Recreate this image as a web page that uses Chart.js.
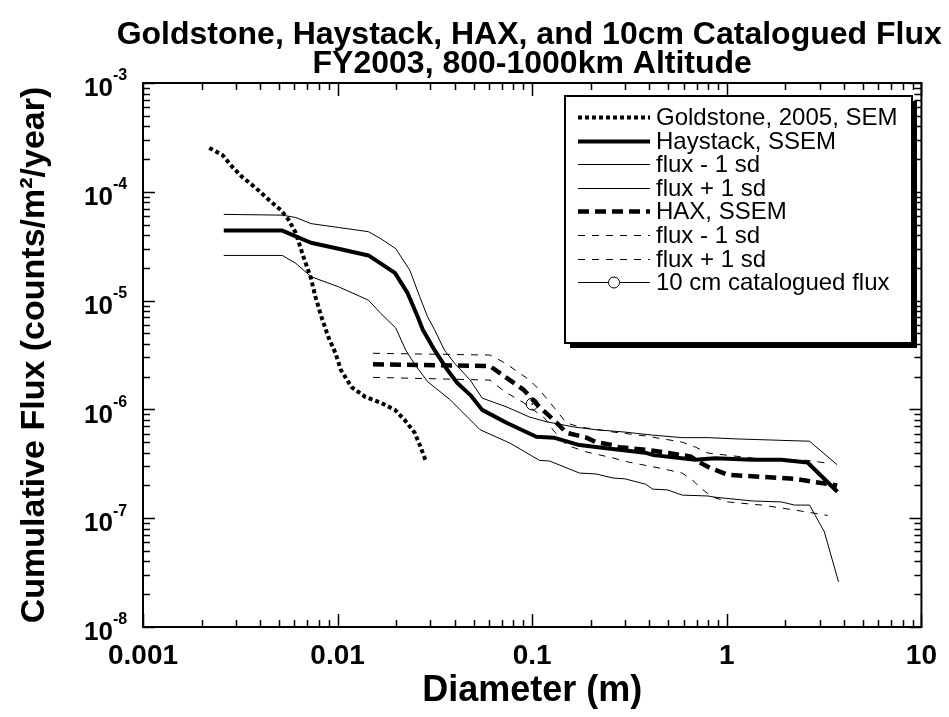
<!DOCTYPE html>
<html>
<head>
<meta charset="utf-8">
<script src="https://cdn.jsdelivr.net/npm/chart.js@4/dist/chart.umd.min.js"></script>
<style>
html,body{margin:0;padding:0;background:#ffffff;}
#wrap{width:949px;height:717px;position:relative;}
</style>
</head>
<body>
<div id="wrap"><canvas id="c" width="949" height="717"></canvas></div>
<script>
// ---------- text ----------
const titleLines = ['Goldstone, Haystack, HAX, and 10cm Catalogued Flux', 'FY2003, 800-1000km Altitude'];
const xAxisTitle = 'Diameter (m)';
const yAxisTitle = 'Cumulative Flux (counts/m\u00B2/year)';

// ---------- tick labels ----------
const xTickValues = [0.001, 0.01, 0.1, 1, 10];
const xTickLabels = ['0.001', '0.01', '0.1', '1', '10'];
const yTickValues = [1e-3, 1e-4, 1e-5, 1e-6, 1e-7, 1e-8];
const yTickBase = '10';
const yTickExponents = ['-3', '-4', '-5', '-6', '-7', '-8'];

// ---------- series ----------
const goldstoneLabel = 'Goldstone, 2005, SEM';
const goldstoneD = [0.00219, 0.00256, 0.00288, 0.00323, 0.00381, 0.00444, 0.00511, 0.00561, 0.00609, 0.00669, 0.00726, 0.0077, 0.00826, 0.00897, 0.00974, 0.0104, 0.0118, 0.0139, 0.0167, 0.0197, 0.0221, 0.0249, 0.0267, 0.0283];
const goldstoneFlux = [2.53e-4, 2.18e-4, 1.69e-4, 1.37e-4, 1.08e-4, 8.4e-5, 6.8e-5, 5.5e-5, 4.2e-5, 2.5e-5, 1.65e-5, 1.08e-5, 7.1e-6, 4.6e-6, 3.3e-6, 2.3e-6, 1.6e-6, 1.3e-6, 1.15e-6, 9.9e-7, 8.0e-7, 6.1e-7, 4.5e-7, 3.4e-7];

const haystackLabel = 'Haystack, SSEM';
const haystackD = [0.0026, 0.0052, 0.0061, 0.0073, 0.0101, 0.0144, 0.0197, 0.0229, 0.0258, 0.0274, 0.0315, 0.0367, 0.0412, 0.048, 0.0553, 0.0742, 0.105, 0.129, 0.175, 0.24, 0.38, 0.42, 0.69, 0.87, 1.35, 1.9, 2.6, 3.7];
const haystackFlux = [4.4e-5, 4.4e-5, 3.9e-5, 3.4e-5, 3.0e-5, 2.6e-5, 1.8e-5, 1.17e-5, 7.1e-6, 5.4e-6, 3.5e-6, 2.3e-6, 1.75e-6, 1.36e-6, 9.9e-7, 7.5e-7, 5.6e-7, 5.5e-7, 4.7e-7, 4.4e-7, 4.0e-7, 3.8e-7, 3.45e-7, 3.55e-7, 3.45e-7, 3.45e-7, 3.25e-7, 1.75e-7];

const haystackLowLabel = 'flux - 1 sd';
const haystackLowD = [0.0026, 0.0052, 0.0061, 0.0073, 0.0101, 0.0144, 0.0167, 0.0199, 0.0224, 0.0249, 0.029, 0.038, 0.054, 0.0768, 0.109, 0.123, 0.175, 0.213, 0.26, 0.30, 0.383, 0.416, 0.496, 0.59, 0.80, 0.87, 1.35, 1.91, 2.23, 2.66, 3.17, 3.75];
const haystackLowFlux = [2.6e-5, 2.6e-5, 2.2e-5, 1.66e-5, 1.34e-5, 1.01e-5, 7.6e-6, 5.6e-6, 3.5e-6, 2.6e-6, 1.8e-6, 1.22e-6, 6.5e-7, 4.9e-7, 3.4e-7, 3.35e-7, 2.6e-7, 2.55e-7, 2.34e-7, 2.3e-7, 2.05e-7, 1.85e-7, 1.82e-7, 1.63e-7, 1.6e-7, 1.56e-7, 1.44e-7, 1.41e-7, 1.32e-7, 1.32e-7, 7.5e-8, 2.6e-8];

const haystackHighLabel = 'flux + 1 sd';
const haystackHighD = [0.0026, 0.0052, 0.0061, 0.0073, 0.0101, 0.0144, 0.0167, 0.0199, 0.0235, 0.0264, 0.029, 0.0315, 0.0354, 0.0398, 0.048, 0.0553, 0.0742, 0.097, 0.1185, 0.163, 0.213, 0.296, 0.416, 0.59, 0.80, 1.14, 2.23, 2.66, 3.69];
const haystackHighFlux = [6.2e-5, 6.1e-5, 5.8e-5, 5.1e-5, 4.7e-5, 4.3e-5, 3.7e-5, 3.0e-5, 1.9e-5, 1.09e-5, 7.1e-6, 5.4e-6, 3.5e-6, 2.67e-6, 1.86e-6, 1.27e-6, 1.05e-6, 8.5e-7, 7.7e-7, 6.9e-7, 6.5e-7, 6.2e-7, 5.8e-7, 5.5e-7, 5.5e-7, 5.35e-7, 5.15e-7, 5.1e-7, 3.1e-7];

const haxLabel = 'HAX, SSEM';
const haxD = [0.0152, 0.0607, 0.0742, 0.0905, 0.109, 0.129, 0.150, 0.190, 0.213, 0.26, 0.279, 0.397, 0.59, 0.65, 0.714, 0.82, 1.015, 1.51, 2.23, 3.69];
const haxFlux = [2.6e-6, 2.5e-6, 1.94e-6, 1.51e-6, 1.05e-6, 8.0e-7, 6.1e-7, 5.5e-7, 5.0e-7, 4.7e-7, 4.5e-7, 4.23e-7, 3.8e-7, 3.7e-7, 3.3e-7, 2.9e-7, 2.5e-7, 2.4e-7, 2.3e-7, 2.0e-7];

const haxLowLabel = 'flux - 1 sd';
const haxLowD = [0.0152, 0.0607, 0.0725, 0.0905, 0.116, 0.128, 0.150, 0.19, 0.26, 0.31, 0.45, 0.59, 0.665, 0.731, 0.841, 1.015, 1.51, 2.23, 3.3];
const haxLowFlux = [1.97e-6, 1.86e-6, 1.45e-6, 1.15e-6, 8.3e-7, 6.47e-7, 4.7e-7, 4.06e-7, 3.58e-7, 3.29e-7, 2.89e-7, 2.6e-7, 2.25e-7, 1.9e-7, 1.57e-7, 1.41e-7, 1.32e-7, 1.19e-7, 1.06e-7];

const haxHighLabel = 'flux + 1 sd';
const haxHighD = [0.0152, 0.0607, 0.0725, 0.097, 0.109, 0.129, 0.150, 0.175, 0.26, 0.383, 0.59, 0.69, 0.80, 1.5, 2.6, 3.4];
const haxHighFlux = [3.28e-6, 3.16e-6, 2.67e-6, 1.86e-6, 1.51e-6, 1.05e-6, 7.5e-7, 6.9e-7, 6.2e-7, 5.7e-7, 5.0e-7, 4.5e-7, 3.97e-7, 3.5e-7, 3.4e-7, 3.18e-7];

const catalogLabel = '10 cm catalogued flux';
const catalogD = [0.1];
const catalogFlux = [1.12e-6];

// ---------- helpers ----------
const pts = (xs, ys) => xs.map((x, i) => ({ x: x, y: ys[i] }));
const FONT = '"Liberation Sans", Arial, Helvetica, sans-serif';

function lineDs(label, xs, ys, width, dash) {
  return {
    label: label,
    data: pts(xs, ys),
    borderColor: '#000000',
    backgroundColor: '#000000',
    borderWidth: width,
    borderDash: dash,
    borderCapStyle: 'butt',
    borderJoinStyle: 'round',
    pointRadius: 0,
    pointHoverRadius: 0,
    tension: 0,
    fill: false
  };
}

const datasets = [
  lineDs(goldstoneLabel, goldstoneD, goldstoneFlux, 4, [4, 3]),
  lineDs(haystackLabel, haystackD, haystackFlux, 4, []),
  lineDs(haystackLowLabel, haystackLowD, haystackLowFlux, 1, []),
  lineDs(haystackHighLabel, haystackHighD, haystackHighFlux, 1, []),
  lineDs(haxLabel, haxD, haxFlux, 4.5, [11, 6]),
  lineDs(haxLowLabel, haxLowD, haxLowFlux, 1, [7, 7]),
  lineDs(haxHighLabel, haxHighD, haxHighFlux, 1, [7, 7]),
  {
    label: catalogLabel,
    data: pts(catalogD, catalogFlux),
    showLine: false,
    borderColor: '#000000',
    backgroundColor: '#ffffff',
    borderWidth: 1,
    pointRadius: 6,
    pointHoverRadius: 6,
    pointStyle: 'circle',
    isMarker: true
  }
];

// ---------- custom drawing: frame, inner ticks, y labels, title, legend ----------
const decorPlugin = {
  id: 'decor',
  afterDraw(chart) {
    const ctx = chart.ctx;
    const ca = chart.chartArea;
    const xs = chart.scales.x, ys = chart.scales.y;
    ctx.save();
    ctx.strokeStyle = '#000';
    ctx.fillStyle = '#000';
    ctx.setLineDash([]);

    // inner ticks (all four sides)
    ctx.lineWidth = 1.5;
    ctx.beginPath();
    for (let d = -3; d <= 1; d++) {
      for (let m = 1; m <= 9; m++) {
        const v = m * Math.pow(10, d);
        if (v < xs.min * 0.999 || v > xs.max * 1.001) continue;
        const px = Math.round(xs.getPixelForValue(v)) + 0.5;
        const L = (m === 1) ? 13 : 7;
        ctx.moveTo(px, ca.bottom); ctx.lineTo(px, ca.bottom - L);
        ctx.moveTo(px, ca.top); ctx.lineTo(px, ca.top + L);
      }
    }
    for (let d = -8; d <= -3; d++) {
      for (let m = 1; m <= 9; m++) {
        const v = m * Math.pow(10, d);
        if (v < ys.min * 0.999 || v > ys.max * 1.001) continue;
        const py = Math.round(ys.getPixelForValue(v)) + 0.5;
        const L = (m === 1) ? 12 : 7;
        ctx.moveTo(ca.left, py); ctx.lineTo(ca.left + L, py);
        ctx.moveTo(ca.right, py); ctx.lineTo(ca.right - L, py);
      }
    }
    ctx.stroke();

    // frame
    ctx.lineWidth = 2;
    ctx.strokeRect(ca.left, ca.top, ca.right - ca.left, ca.bottom - ca.top);

    // small centre dot of the catalogued-flux marker
    const cm = chart.getDatasetMeta(7);
    if (cm && cm.data[0]) {
      ctx.beginPath();
      ctx.arc(cm.data[0].x, cm.data[0].y, 0.9, 0, Math.PI * 2);
      ctx.fill();
    }

    // y tick labels with superscript exponents
    yTickValues.forEach((v, i) => {
      const py = ys.getPixelForValue(v);
      ctx.textBaseline = 'middle';
      ctx.font = 'bold 26px ' + FONT;
      ctx.textAlign = 'right';
      ctx.fillText(yTickBase, 113, py + 6);
      ctx.font = 'bold 16px ' + FONT;
      ctx.textAlign = 'left';
      ctx.fillText(yTickExponents[i], 113, py - 7);
    });

    // title
    ctx.font = 'bold 32px ' + FONT;
    ctx.textAlign = 'center';
    ctx.textBaseline = 'alphabetic';
    const cx = (ca.left + ca.right) / 2;
    ctx.fillText(titleLines[0], cx - 3, 44);
    ctx.fillText(titleLines[1], cx, 73);

    // legend box with shadow
    const bx = 565, by = 96, bw = 347, bh = 247;
    ctx.fillStyle = '#000';
    ctx.fillRect(bx + 5, by + 5, bw, bh);
    ctx.fillStyle = '#fff';
    ctx.fillRect(bx, by, bw, bh);
    ctx.lineWidth = 2;
    ctx.strokeRect(bx, by, bw, bh);

    const ds = chart.data.datasets;
    const rowY0 = 117, rowStep = 23.6;
    const lx0 = 578, lx1 = 650, tx = 656;
    ds.forEach((d, i) => {
      const y = Math.round(rowY0 + i * rowStep) + 0.5;
      ctx.save();
      ctx.strokeStyle = '#000';
      if (d.isMarker) {
        ctx.lineWidth = 1;
        ctx.setLineDash([]);
        ctx.beginPath(); ctx.moveTo(lx0, y); ctx.lineTo(lx1, y); ctx.stroke();
        ctx.beginPath(); ctx.arc((lx0 + lx1) / 2, y, 5.5, 0, Math.PI * 2);
        ctx.fillStyle = '#fff'; ctx.fill(); ctx.stroke();
      } else {
        ctx.lineWidth = d.borderWidth;
        ctx.lineCap = 'butt';
        ctx.setLineDash(d.borderDash || []);
        ctx.beginPath(); ctx.moveTo(lx0, y); ctx.lineTo(lx1, y); ctx.stroke();
      }
      ctx.restore();
      ctx.fillStyle = '#000';
      ctx.font = '24px ' + FONT;
      ctx.textAlign = 'left';
      ctx.textBaseline = 'middle';
      ctx.fillText(d.label, tx, y + 1);
    });

    ctx.restore();
  }
};

const whiteBg = {
  id: 'whiteBg',
  beforeDraw(chart) {
    const ctx = chart.ctx;
    ctx.save();
    ctx.fillStyle = '#fff';
    ctx.fillRect(0, 0, chart.width, chart.height);
    ctx.restore();
  }
};

new Chart(document.getElementById('c'), {
  type: 'line',
  data: { datasets: datasets },
  options: {
    responsive: false,
    animation: false,
    devicePixelRatio: 1,
    layout: { padding: { top: 83, right: 21, left: 0, bottom: 0 } },
    plugins: {
      legend: { display: false },
      title: { display: false },
      tooltip: { enabled: false }
    },
    scales: {
      x: {
        type: 'logarithmic',
        min: 0.001,
        max: 10,
        grid: { display: false, drawTicks: false },
        border: { display: false },
        afterBuildTicks: (s) => { s.ticks = xTickValues.map(v => ({ value: v, major: true })); },
        afterFit: (s) => { s.height = 90; },
        ticks: {
          autoSkip: false,
          maxRotation: 0,
          padding: 12,
          color: '#000',
          font: { family: FONT, size: 28, weight: 'bold' },
          callback: (v, i) => xTickLabels[i]
        },
        title: {
          display: true,
          text: xAxisTitle,
          color: '#000',
          font: { family: FONT, size: 36, weight: 'bold' },
          padding: { top: 0, bottom: 4 }
        }
      },
      y: {
        type: 'logarithmic',
        min: 1e-8,
        max: 1e-3,
        grid: { display: false, drawTicks: false },
        border: { display: false },
        afterFit: (s) => { s.width = 143; },
        ticks: { display: false },
        title: {
          display: true,
          text: yAxisTitle,
          color: '#000',
          font: { family: FONT, size: 34, weight: 'bold' },
          padding: { top: 14, bottom: 0 }
        }
      }
    }
  },
  plugins: [whiteBg, decorPlugin]
});
</script>
</body>
</html>
